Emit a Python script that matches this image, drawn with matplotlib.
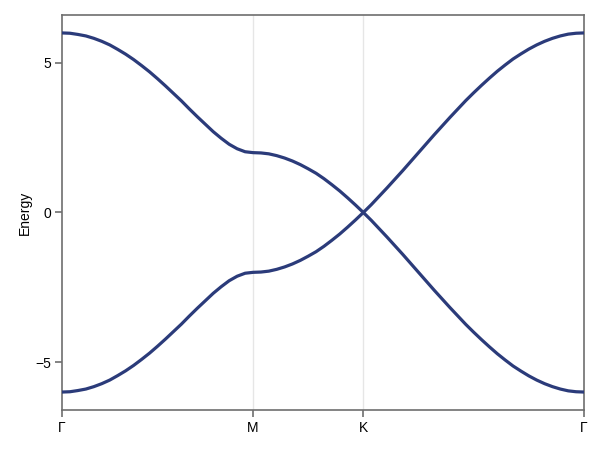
import matplotlib
matplotlib.use("Agg")
import matplotlib.pyplot as plt
import numpy as np

plt.rcParams['font.family'] = ['Liberation Sans', 'DejaVu Sans']

# High-symmetry points along the path and their positions (k-distance)
tick_labels = ["Γ", "M", "K", "Γ"]
tick_pos = [0.0, 0.5774, 0.9107, 1.5774]

# Upper band energies read along each segment (evenly spaced in k)
upper_GM = [6.00, 5.99, 5.95, 5.90, 5.82, 5.72, 5.60, 5.45, 5.29, 5.11, 4.91, 4.70, 4.47,
            4.23, 3.98, 3.73, 3.46, 3.20, 2.95, 2.70, 2.48, 2.28, 2.13, 2.03, 2.00]
upper_MK = [2.00, 1.99, 1.96, 1.90, 1.82, 1.72, 1.60, 1.46, 1.31, 1.13, 0.93, 0.72, 0.49, 0.25, 0.00]
upper_KG = [0.00, 0.26, 0.54, 0.82, 1.11, 1.40, 1.70, 2.00, 2.30, 2.60, 2.89, 3.18, 3.46, 3.74,
            4.00, 4.25, 4.49, 4.72, 4.93, 5.13, 5.30, 5.46, 5.60, 5.72, 5.82, 5.90, 5.96, 5.99, 6.00]

# Lower band energies
lower_GM = [-6.00, -5.99, -5.95, -5.90, -5.82, -5.72, -5.60, -5.45, -5.29, -5.11, -4.91, -4.70, -4.47,
            -4.23, -3.98, -3.73, -3.46, -3.20, -2.95, -2.70, -2.48, -2.28, -2.13, -2.03, -2.00]
lower_MK = [-2.00, -1.99, -1.96, -1.90, -1.82, -1.72, -1.60, -1.46, -1.31, -1.13, -0.93, -0.72, -0.49, -0.25, 0.00]
lower_KG = [0.00, -0.26, -0.54, -0.82, -1.11, -1.40, -1.70, -2.00, -2.30, -2.60, -2.89, -3.18, -3.46, -3.74,
            -4.00, -4.25, -4.49, -4.72, -4.93, -5.13, -5.30, -5.46, -5.60, -5.72, -5.82, -5.90, -5.96, -5.99, -6.00]

segs_up = [upper_GM, upper_MK, upper_KG]
segs_lo = [lower_GM, lower_MK, lower_KG]

def path(segs):
    xs, ys = [], []
    for i, s in enumerate(segs):
        x = np.linspace(tick_pos[i], tick_pos[i + 1], len(s))
        if i > 0:
            x, s = x[1:], s[1:]
        xs.extend(x)
        ys.extend(s)
    return np.array(xs), np.array(ys)

fig = plt.figure(figsize=(6, 4.5), dpi=100)
ax = fig.add_axes([0.1033, 0.0889, 0.87, 0.8778])

line_color = "#2b3b7a"
for segs in (segs_up, segs_lo):
    x, y = path(segs)
    ax.plot(x, y, color=line_color, lw=2.3, solid_capstyle='round', solid_joinstyle='round', zorder=3)

ax.set_xlim(tick_pos[0], tick_pos[-1])
ax.set_ylim(-6.6, 6.6)
ax.set_xticks(tick_pos)
ax.set_xticklabels(tick_labels)
ax.set_yticks([-5, 0, 5])
ax.set_yticklabels(["−5", "0", "5"])
for xp in tick_pos[1:-1]:
    ax.axvline(xp, color="#e6e6e6", lw=1.0, zorder=1)

for sp in ax.spines.values():
    sp.set_color("#6e6e6e")
    sp.set_linewidth(1.2)
ax.tick_params(direction='out', length=5, width=1.2, color="#6e6e6e", labelsize=10, pad=3)
ax.set_ylabel("Energy", fontsize=10, labelpad=2)

fig.savefig("out.png", dpi=100)
